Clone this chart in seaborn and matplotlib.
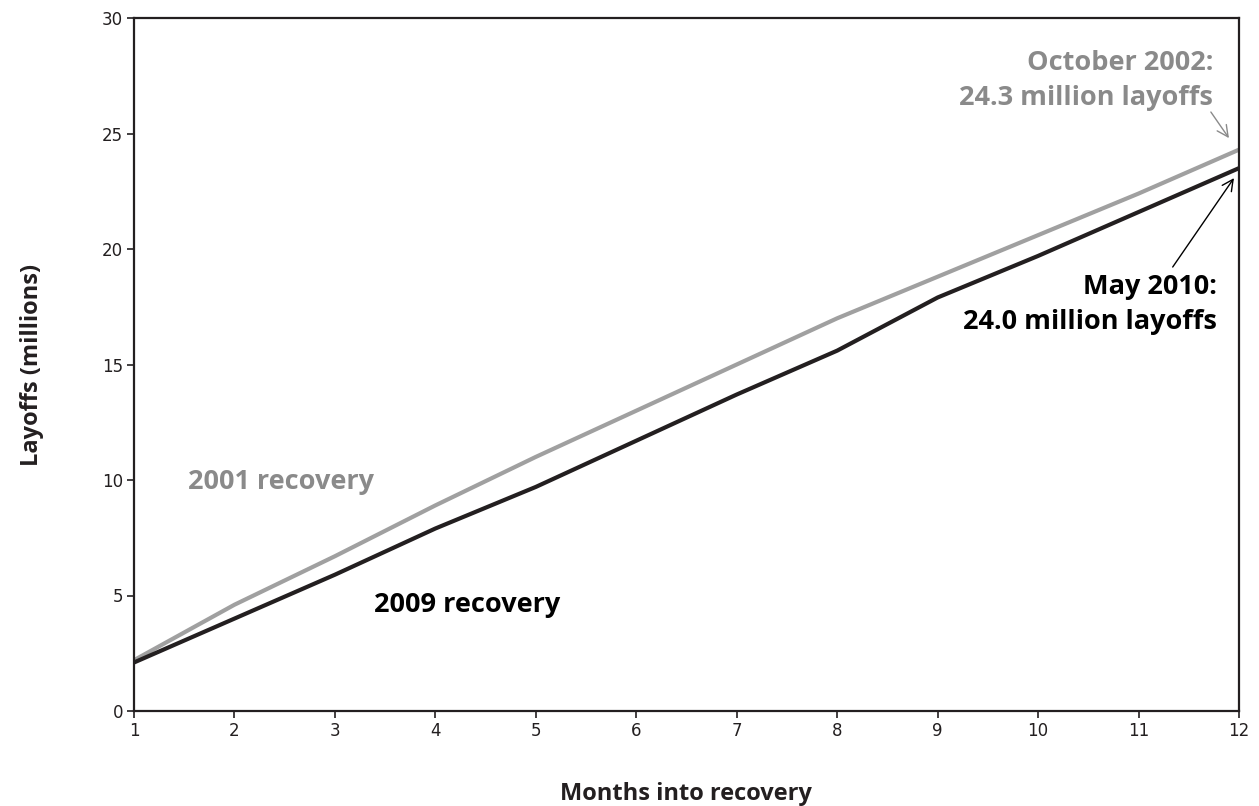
import matplotlib
matplotlib.use("Agg")
import matplotlib.pyplot as plt
import seaborn as sns
import pandas as pd

months = list(range(1, 13))
recovery_2001 = [2.2, 4.6, 6.7, 8.9, 11.0, 13.0, 15.0, 17.0, 18.8, 20.6, 22.4, 24.3]
recovery_2009 = [2.1, 4.0, 5.9, 7.9, 9.7, 11.7, 13.7, 15.6, 17.9, 19.7, 21.6, 23.5]
series_names = ["2001 recovery", "2009 recovery"]
y_ticks = [0, 5, 10, 15, 20, 25, 30]

df = pd.DataFrame({
    "month": months * 2,
    "layoffs": recovery_2001 + recovery_2009,
    "series": [series_names[0]] * 12 + [series_names[1]] * 12,
})

sns.set_theme(style="white")
plt.rcParams["font.family"] = ["Open Sans", "DejaVu Sans"]

GRAY_LINE = "#a0a0a0"
GRAY_TEXT = "#8a8a8a"
BLACK = "#231f20"

fig = plt.figure(figsize=(12.59, 8.06), dpi=100)
ax = fig.add_axes([134 / 1259, 1 - 711 / 806, (1239 - 134) / 1259, (711 - 18) / 806])

sns.lineplot(data=df, x="month", y="layoffs", hue="series",
             palette={series_names[0]: GRAY_LINE, series_names[1]: BLACK},
             linewidth=3, legend=False, ax=ax)

ax.set_xlim(1, 12)
ax.set_ylim(0, 30)
ax.set_xticks(months)
ax.set_yticks(y_ticks)
ax.tick_params(axis="both", which="both", direction="out", length=5, width=1.2,
               color=BLACK, labelsize=12, labelcolor=BLACK, left=True, bottom=True, pad=3)
for lab in ax.get_xticklabels() + ax.get_yticklabels():
    lab.set_family(["DejaVu Sans"])
for sp in ax.spines.values():
    sp.set_visible(True)
    sp.set_color(BLACK)
    sp.set_linewidth(1.6)

ax.set_xlabel("Months into recovery", fontsize=17, fontweight="bold", color=BLACK)
ax.set_ylabel("Layoffs (millions)", fontsize=17, fontweight="bold", color=BLACK)
ax.xaxis.set_label_coords(0.5, -0.102)
ax.yaxis.set_label_coords(-0.081, 0.5)

ax.text(2.46, 9.9, "2001 recovery", fontsize=19.5, fontweight="bold", color=GRAY_TEXT,
        ha="center", va="center")
ax.text(4.32, 4.6, "2009 recovery", fontsize=19.5, fontweight="bold", color="black",
        ha="center", va="center")

ax.text(11.74, 27.3, "October 2002:\n24.3 million layoffs", fontsize=19.5, fontweight="bold",
        color=GRAY_TEXT, ha="right", va="center", multialignment="right", linespacing=1.45)
ax.annotate("", xy=(11.9, 24.8), xytext=(11.72, 25.93),
            arrowprops=dict(arrowstyle="->", color=GRAY_TEXT, lw=1, shrinkA=0, shrinkB=0,
                            mutation_scale=20))
ax.text(11.78, 17.6, "May 2010:\n24.0 million layoffs", fontsize=19.5, fontweight="bold",
        color="black", ha="right", va="center", multialignment="right", linespacing=1.45)
ax.annotate("", xy=(11.95, 23.07), xytext=(11.34, 19.22),
            arrowprops=dict(arrowstyle="->", color="black", lw=1, shrinkA=0, shrinkB=0,
                            mutation_scale=20))

fig.savefig("out.png", dpi=100)
